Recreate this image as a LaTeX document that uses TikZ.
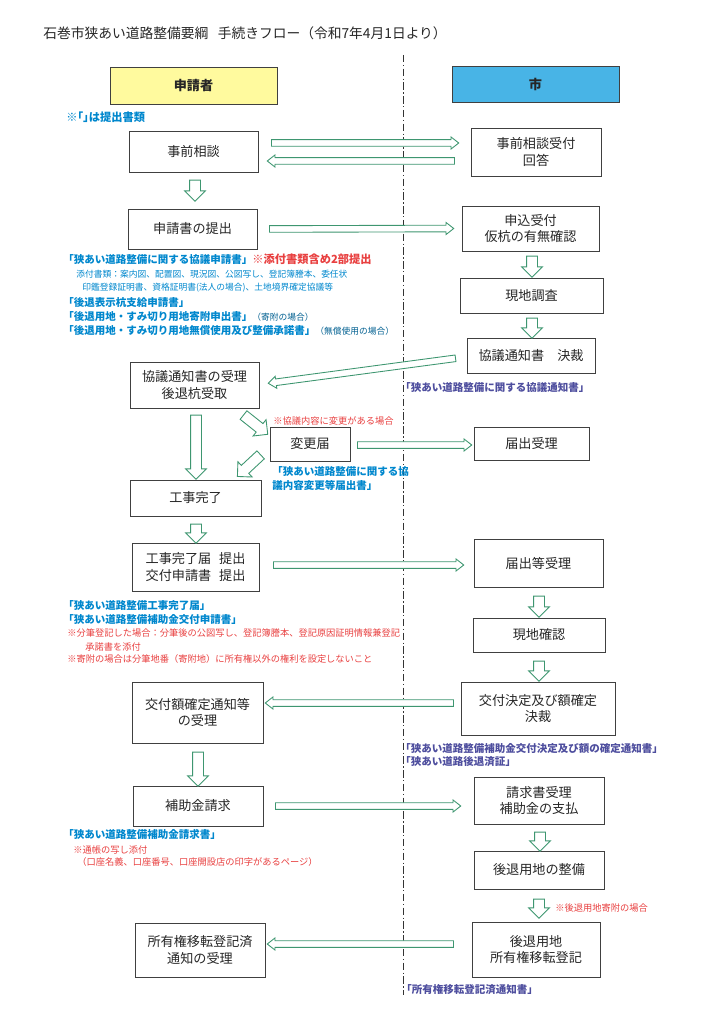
\documentclass[tikz,border=0pt]{standalone}
\usepackage{fontspec}
\setmainfont{Noto Sans CJK JP}
\usetikzlibrary{calc,shapes.arrows}

\definecolor{flowgreen}{RGB}{62,150,112}
\definecolor{docblue}{RGB}{0,135,205}
\definecolor{docnavy}{RGB}{78,78,158}
\definecolor{notered}{RGB}{232,64,64}
\definecolor{headyellow}{RGB}{255,250,158}
\definecolor{headblue}{RGB}{72,180,230}

\tikzset{
  box/.style 2 args={draw=black!75, line width=.6pt, fill=white, minimum width=#1*.8pt, minimum height=#2*.8pt,
    inner sep=0pt, align=center, text=black!85, font=\fontsize{10.5}{13.5}\selectfont},
  hollow/.style={single arrow, draw=flowgreen, line width=.7pt, fill=white, single arrow head indent=0pt,
    minimum width=0pt, outer sep=0pt},
  flow/.style n args={3}{to path={let \p1=(\tikztostart), \p2=(\tikztotarget),
    \n1={atan2(\y2-\y1,\x2-\x1)}, \n2={veclen(\x2-\x1,\y2-\y1)} in
    node[hollow, inner sep=#1, single arrow head extend=#2, single arrow tip angle=#3,
      minimum height=\n2, rotate=\n1] at ($(\p1)!.5!(\p2)$) {}}},
  thinarrow/.style={flow={2.3pt}{2.2pt}{76}},
  fatarrow/.style={flow={4pt}{4pt}{90}},
  doc/.style={anchor=west, inner sep=0pt, text=docblue, font=\fontsize{8.4}{11.2}\selectfont\bfseries},
  citydoc/.style={doc, text=docnavy},
  note/.style={anchor=west, inner sep=0pt, text=notered, font=\fontsize{7.4}{9}\selectfont},
  small/.style={anchor=west, inner sep=0pt, text=docblue, font=\fontsize{7}{9}\selectfont}
}

\begin{document}
\begin{tikzpicture}[x=.8pt, y=-.8pt]

      \useasboundingbox (0,0) rectangle (708,1030);

      \node[anchor=west, inner sep=0pt, text=black!85, font=\fontsize{11}{13}\selectfont] (title) at (43,33)
        {石巻市狭あい道路整備要綱\hspace{.7em}手続きフロー（令和7年4月1日より）};

      \coordinate (top) at (403,55);
      \coordinate (bottom) at (403,995);
      \draw[black!80, line width=.7pt, dash pattern=on 6pt off 2pt on 1pt off 2pt] (top) -- (bottom);

      \begin{scope}
        \node[box={167}{37}, fill=headyellow, font=\fontsize{10.5}{13.5}\selectfont\bfseries] (a0) at (193.5,85.5) {申請者};
        \node[box={129}{41}] (a1) at (193.5,151.5) {事前相談};
        \node[box={129}{40}] (a2) at (192.5,229) {申請書の提出};
        \node[box={129}{46}] (a3) at (194.5,385) {協議通知書の受理\\後退杭受取};
        \node[box={80}{34}]  (a4) at (310,444) {変更届};
        \node[box={131}{36}] (a5) at (195.5,498) {工事完了};
        \node[box={127}{48}] (a6) at (195.5,567) {工事完了届\hspace{.6em}提出\\交付申請書\hspace{.6em}提出};
        \node[box={131}{61}] (a7) at (197.5,712.5) {交付額確定通知等\\の受理};
        \node[box={130}{40}] (a8) at (198,806) {補助金請求};
        \node[box={130}{54}] (a9) at (200,950) {所有権移転登記済\\通知の受理};

        \node[box={167}{36}, fill=headblue, font=\fontsize{10.5}{13.5}\selectfont\bfseries] (c0) at (535.5,84) {市};
        \node[box={130}{48}] (c1)  at (536,152) {事前相談受付\\回答};
        \node[box={137}{45}] (c2)  at (530.5,228.5) {申込受付\\仮杭の有無確認};
        \node[box={143}{35}] (c3)  at (531.5,295.5) {現地調査};
        \node[box={128}{35}] (c4)  at (531,355.5) {協議通知書　決裁};
        \node[box={115}{33}] (c5)  at (531.5,443.5) {届出受理};
        \node[box={129}{48}] (c6)  at (538.5,563) {届出等受理};
        \node[box={132}{34}] (c7)  at (539,635) {現地確認};
        \node[box={154}{53}] (c8)  at (538,708.5) {交付決定及び額確定\\決裁};
        \node[box={130}{47}] (c9)  at (539,800.5) {請求書受理\\補助金の支払};
        \node[box={130}{38}] (c10) at (539,870) {後退用地の整備};
        \node[box={128}{55}] (c11) at (536,949.5) {後退用地\\所有権移転登記};
      \end{scope}

      \begin{scope}
        \path ($(a1.east)+(11,-8.5)$) edge[thinarrow] ($(c1.west)+(-14,-9)$);
        \path ($(c1.west)+(-14,9)$)   edge[thinarrow] ($(a1.east)+(11,9.5)$);
        \path ($(a1.south)+(1.5,5)$)  edge[fatarrow]  ($(a2.north)+(2.5,-10)$);
        \path ($(a2.east)+(10,0)$)    edge[thinarrow] ($(c2.west)+(-10,0)$);
        \path ($(c2.south)+(1.5,2)$)  edge[fatarrow]  ($(c3.north)+(.5,-3)$);
        \path ($(c3.south)+(.5,2)$)   edge[fatarrow]  ($(c4.north)+(1,-2)$);
        \path ($(c4.west)+(-9,2.5)$)  edge[thinarrow] ($(a3.east)+(11,-2)$);
        \path ($(a3.south)+(1.5,4)$)  edge[fatarrow]  ($(a5.north)+(.5,-3)$);
        \path ($(a3.south east)+(-18,5)$) edge[fatarrow] ($(a4.north west)+(-4,6)$);
        \path ($(a4.east)+(5,1)$)     edge[thinarrow] ($(c5.west)+(-4,1.5)$);
        \path ($(a4.west)+(-7,9)$)    edge[fatarrow]  ($(a5.north east)+(-22,-5)$);
        \path ($(a5.south)+(.5,5)$)   edge[fatarrow]  ($(a6.north)+(.5,-2)$);
        \path ($(a6.east)+(12,-2)$)   edge[thinarrow] ($(c6.west)+(-12,2)$);
        \path ($(c6.south)+(.5,6)$)   edge[fatarrow]  ($(c7.north)+(0,-3)$);
        \path ($(c7.south)+(0,6)$)    edge[fatarrow]  ($(c8.north)+(1,-3)$);
        \path ($(c8.west)+(-5,-5.5)$) edge[thinarrow] ($(a7.east)+(4,-9.5)$);
        \path ($(a7.south)+(.5,6)$)   edge[fatarrow]  ($(a8.north)+(0,-2)$);
        \path ($(a8.east)+(10,0)$)    edge[thinarrow] ($(c9.west)+(-15,5.5)$);
        \path ($(c9.south)+(1,5)$)    edge[fatarrow]  ($(c10.north)+(1,-2)$);
        \path ($(c10.south)+(0,7)$)   edge[fatarrow]  ($(c11.north)+(3,-6)$);
        \path ($(c11.west)+(-16,-5.5)$) edge[thinarrow] ($(a9.east)+(4,-6)$);
      \end{scope}

      \node[doc, font=\fontsize{9}{11}\selectfont\bfseries] (key) at (66,117) {※｢｣は提出書類};

      \node[doc] (d1) at (63,259) {「狭あい道路整備に関する協議申請書」{\color{notered}\fontsize{9}{11}\selectfont ※添付書類含め2部提出}};
      \node[small] (d2) at (76,274) {添付書類：案内図、配置図、現況図、公図写し、登記簿謄本、委任状};
      \node[small] (d3) at (82,288) {印鑑登録証明書、資格証明書(法人の場合)、土地境界確定協議等};
      \node[doc] (d4) at (63,303) {「後退表示杭支給申請書」};
      \node[doc] (d5) at (63,317) {「後退用地・すみ切り用地寄附申出書」{\mdseries\fontsize{7}{9}\selectfont\color{docblue!70!black}（寄附の場合）}};
      \node[doc] (d6) at (63,331) {「後退用地・すみ切り用地無償使用及び整備承諾書」{\mdseries\fontsize{7}{9}\selectfont\color{docblue!70!black}（無償使用の場合）}};

      \node[citydoc] (e1) at (400,388) {「狭あい道路整備に関する協議通知書」};
      \node[note] (n1) at (273,421) {※協議内容に変更がある場合};
      \node[doc, align=left] (d7) at (272,479) {「狭あい道路整備に関する協\\議内容変更等届出書」};

      \node[doc] (d8) at (63,606) {「狭あい道路整備工事完了届」};
      \node[doc] (d9) at (63,620) {「狭あい道路整備補助金交付申請書」};
      \node[note] (n2) at (67,633) {※分筆登記した場合：分筆後の公図写し、登記簿謄本、登記原因証明情報兼登記};
      \node[note] (n3) at (85,647) {承諾書を添付};
      \node[note] (n4) at (67,659) {※寄附の場合は分筆地番（寄附地）に所有権以外の権利を設定しないこと};

      \node[citydoc] (e2) at (400,749) {「狭あい道路整備補助金交付決定及び額の確定通知書」};
      \node[citydoc] (e3) at (400,762) {「狭あい道路後退済証」};

      \node[doc] (d10) at (63,834) {「狭あい道路整備補助金請求書」};
      \node[note] (n5) at (73,850) {※通帳の写し添付};
      \node[note] (n6) at (77,862) {（口座名義、口座番号、口座開設店の印字があるページ）};

      \node[note] (n7) at (555,908) {※後退用地寄附の場合};
      \node[citydoc] (e4) at (401,990) {「所有権移転登記済通知書」};

\end{tikzpicture}
\end{document}
